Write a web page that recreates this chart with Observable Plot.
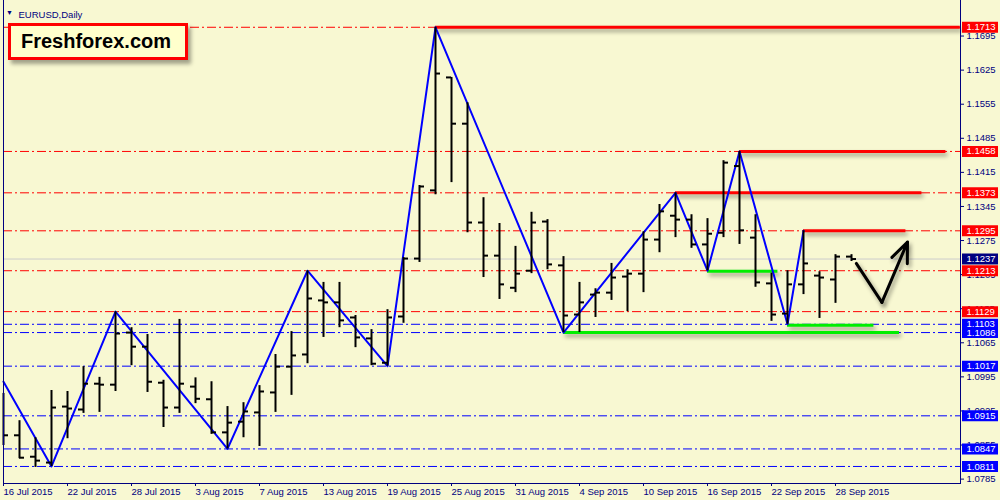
<!DOCTYPE html>
<html><head><meta charset="utf-8">
<script src="https://cdn.jsdelivr.net/npm/d3@7"></script>
<script src="https://cdn.jsdelivr.net/npm/@observablehq/plot@0.6"></script>
<style>
html,body{margin:0;padding:0;background:#F8F8D2;}
#wrap{position:relative;width:1000px;height:500px;overflow:hidden;}
#logo{position:absolute;left:8px;top:23px;width:164px;height:31px;border:3px solid #FF0000;background:#FFFFCC;
 font:bold 20px "Liberation Sans",Arial,sans-serif;color:#000;line-height:31px;padding-left:10px;
 box-shadow:3px 4px 4px rgba(0,0,0,0.35);}
</style></head><body><div id="wrap"><div id="logo">Freshforex.com</div></div>
<script>
const dates = ["2015-07-16","2015-07-17","2015-07-20","2015-07-21","2015-07-22","2015-07-23","2015-07-24","2015-07-27","2015-07-28","2015-07-29","2015-07-30","2015-07-31","2015-08-03","2015-08-04","2015-08-05","2015-08-06","2015-08-07","2015-08-10","2015-08-11","2015-08-12","2015-08-13","2015-08-14","2015-08-17","2015-08-18","2015-08-19","2015-08-20","2015-08-21","2015-08-24","2015-08-25","2015-08-26","2015-08-27","2015-08-28","2015-08-31","2015-09-01","2015-09-02","2015-09-03","2015-09-04","2015-09-07","2015-09-08","2015-09-09","2015-09-10","2015-09-11","2015-09-14","2015-09-15","2015-09-16","2015-09-17","2015-09-18","2015-09-21","2015-09-22","2015-09-23","2015-09-24","2015-09-25","2015-09-28","2015-09-29"];
const open  = [1.0926,1.0875,1.0831,1.0819,1.0934,1.0928,1.0981,1.0979,1.1086,1.1057,1.0983,1.0932,1.0975,1.0949,1.0881,1.0903,1.0922,1.0963,1.1016,1.1041,1.1152,1.1148,1.1117,1.1074,1.1024,1.1119,1.1238,1.1378,1.1610,1.1515,1.1312,1.1244,1.1178,1.1213,1.1314,1.1224,1.1123,1.1164,1.1168,1.1201,1.1207,1.1277,1.1326,1.1318,1.1267,1.1291,1.1428,1.1281,1.1187,1.1125,1.1185,1.1203,1.1195,1.1242];
const high  = [1.0961,1.0905,1.0870,1.0967,1.0965,1.1016,1.0994,1.1129,1.1096,1.1082,1.0988,1.1113,1.0993,1.0985,1.0934,1.0942,1.0977,1.1041,1.1088,1.1213,1.1189,1.1189,1.1121,1.1092,1.1133,1.1240,1.1388,1.1713,1.1610,1.1558,1.1363,1.1310,1.1263,1.1333,1.1318,1.1242,1.1189,1.1176,1.1228,1.1215,1.1293,1.1349,1.1373,1.1328,1.1320,1.1439,1.1458,1.1328,1.1208,1.1213,1.1295,1.1211,1.1246,1.1246];
const low   = [1.0854,1.0827,1.0809,1.0811,1.0868,1.0920,1.0922,1.0965,1.1018,1.0963,1.0891,1.0920,1.0940,1.0877,1.0847,1.0870,1.0852,1.0922,1.0957,1.1022,1.1076,1.1096,1.1055,1.1018,1.1017,1.1105,1.1230,1.1369,1.1394,1.1291,1.1199,1.1154,1.1168,1.1207,1.1215,1.1086,1.1086,1.1117,1.1152,1.1129,1.1168,1.1250,1.1281,1.1259,1.1213,1.1281,1.1267,1.1179,1.1109,1.1103,1.1164,1.1115,1.1146,1.1232];
const close = [1.0875,1.0829,1.0823,1.0932,1.0930,1.0981,1.0979,1.1084,1.1057,1.0985,1.0932,1.0981,1.0950,1.0881,1.0901,1.0924,1.0965,1.1016,1.1039,1.1156,1.1148,1.1111,1.1076,1.1022,1.1117,1.1238,1.1386,1.1618,1.1515,1.1312,1.1244,1.1185,1.1207,1.1312,1.1226,1.1121,1.1148,1.1168,1.1199,1.1207,1.1277,1.1335,1.1318,1.1267,1.1289,1.1435,1.1296,1.1189,1.1123,1.1185,1.1228,1.1199,1.1242,1.1237];

const yTicks = [1.0785,1.0855,1.0925,1.0995,1.1065,1.1135,1.1205,1.1275,1.1345,1.1415,1.1485,1.1555,1.1625,1.1695];
const redLevels  = [1.1713,1.1458,1.1373,1.1295,1.1213,1.1129];
const blueLevels = [1.1103,1.1086,1.1017,1.0915,1.0847,1.0811];
const currentPrice = 1.1237;

const zzIdx   = [0,3,7,14,19,24,27,35,42,44,46,49,50];
const zzPrice = [1.0985,1.0811,1.1129,1.0847,1.1213,1.1017,1.1713,1.1086,1.1373,1.1213,1.1458,1.1103,1.1295];

const resPrice = [1.1713,1.1458,1.1373,1.1295];
const resFrom  = [27,46,42,50];
const resTo    = [59.8,58.9,57.4,56.4];

const supPrice = [1.1212,1.1086,1.1101];
const supFrom  = [44,35,49];
const supTo    = [48.4,56,54.4];

const fcIdx   = [53.3,54.9,56.5];
const fcPrice = [1.1228,1.1148,1.1272];

// ---- build tables
const bars = dates.map((d,i)=>({i, date:d, o:open[i], h:high[i], l:low[i], c:close[i]}));
const fmt = d3.utcFormat("%-d %b %Y");
const tickIdx = bars.filter(b => b.i % 4 === 0).map(b => b.i);
const zz = zzIdx.map((x,k)=>({x, p:zzPrice[k]}));
const res = resPrice.map((p,k)=>({p, a:resFrom[k], b:resTo[k]}));
const sup = supPrice.map((p,k)=>({p, a:supFrom[k], b:supTo[k]}));
const fc = fcIdx.map((x,k)=>({x, p:fcPrice[k]}));
const fcArrow = [{x1:fcIdx[1], y1:fcPrice[1], x2:fcIdx[2], y2:fcPrice[2]}];
const boxes = [
  ...redLevels.map(p=>({p, color:"#FF0000"})),
  ...blueLevels.map(p=>({p, color:"#0000FF"})),
  {p: currentPrice, color:"#000080"}
];
const dash = "9,3,2,3";
const navy = "#000080";

const chart = Plot.plot({
  width:1000, height:500,
  marginLeft:3, marginRight:40, marginTop:0, marginBottom:17,
  style:{background:"#F8F8D2", color:navy, fontFamily:"'Liberation Sans', Arial, sans-serif", fontSize:"9.5px", overflow:"visible"},
  x:{domain:[0,59.8125]},
  y:{domain:[1.0776,1.1768]},
  marks:[
    Plot.ruleY([currentPrice], {stroke:"#CCCCCC", strokeWidth:1}),
    Plot.ruleY(redLevels, {stroke:"#FF0000", strokeDasharray:dash, strokeWidth:1}),
    Plot.ruleY(blueLevels, {stroke:"#0000FF", strokeDasharray:dash, strokeWidth:1}),
    Plot.ruleY(sup, {y:"p", x1:"a", x2:"b", stroke:"#00EE00", strokeWidth:3}),
    Plot.ruleY(res, {y:"p", x1:"a", x2:"b", stroke:"#FF0000", strokeWidth:3}),
    Plot.line(zz, {x:"x", y:"p", stroke:"#0000FF", strokeWidth:2}),
    Plot.ruleX(bars, {x:"i", y1:"l", y2:"h", stroke:"black", strokeWidth:2}),
    Plot.ruleY(bars, {y:"o", x1:d=>d.i-0.3125, x2:"i", stroke:"black", strokeWidth:2, clip:true}),
    Plot.ruleY(bars, {y:"c", x1:"i", x2:d=>d.i+0.3125, stroke:"black", strokeWidth:2}),
    Plot.line(fc.slice(0,2), {x:"x", y:"p", stroke:"black", strokeWidth:3, strokeLinecap:"round"}),
    Plot.arrow(fcArrow, {x1:"x1", y1:"y1", x2:"x2", y2:"y2", stroke:"black", strokeWidth:3, headLength:22, headAngle:45}),
    Plot.frame({anchor:"left", stroke:navy}),
    Plot.frame({anchor:"right", stroke:navy}),
    Plot.frame({anchor:"bottom", stroke:navy}),
    Plot.axisY(yTicks, {anchor:"right", tickSize:3, tickPadding:3, tickFormat:d3.format(".4f"), color:navy}),
    Plot.axisX(tickIdx, {anchor:"bottom", tickSize:3, tickPadding:2, textAnchor:"start", dx:0, tickFormat:i=>fmt(new Date(dates[i])), color:navy}),
    Plot.ruleY(boxes, {y:"p", stroke:"color", strokeWidth:11, insetLeft:959, insetRight:-38}),
    Plot.text(boxes, {y:"p", text:d=>d.p.toFixed(4), frameAnchor:"right", textAnchor:"start", dx:6, fill:"white"}),
    Plot.text(["EURUSD,Daily"], {frameAnchor:"top-left", dx:15, dy:11, textAnchor:"start", fill:navy}),
    Plot.text(["▼"], {frameAnchor:"top-left", dx:6, dy:10, textAnchor:"middle", fill:navy, fontSize:7})
  ]
});
d3.select(chart).selectAll('g[stroke-width="3"]').style("filter","drop-shadow(2px 3px 2px rgba(0,0,0,0.4))");
chart.style.position = "absolute";
chart.style.left = "0"; chart.style.top = "0";
const wrap = document.getElementById("wrap");
wrap.insertBefore(chart, wrap.firstChild);
</script>
</body></html>
